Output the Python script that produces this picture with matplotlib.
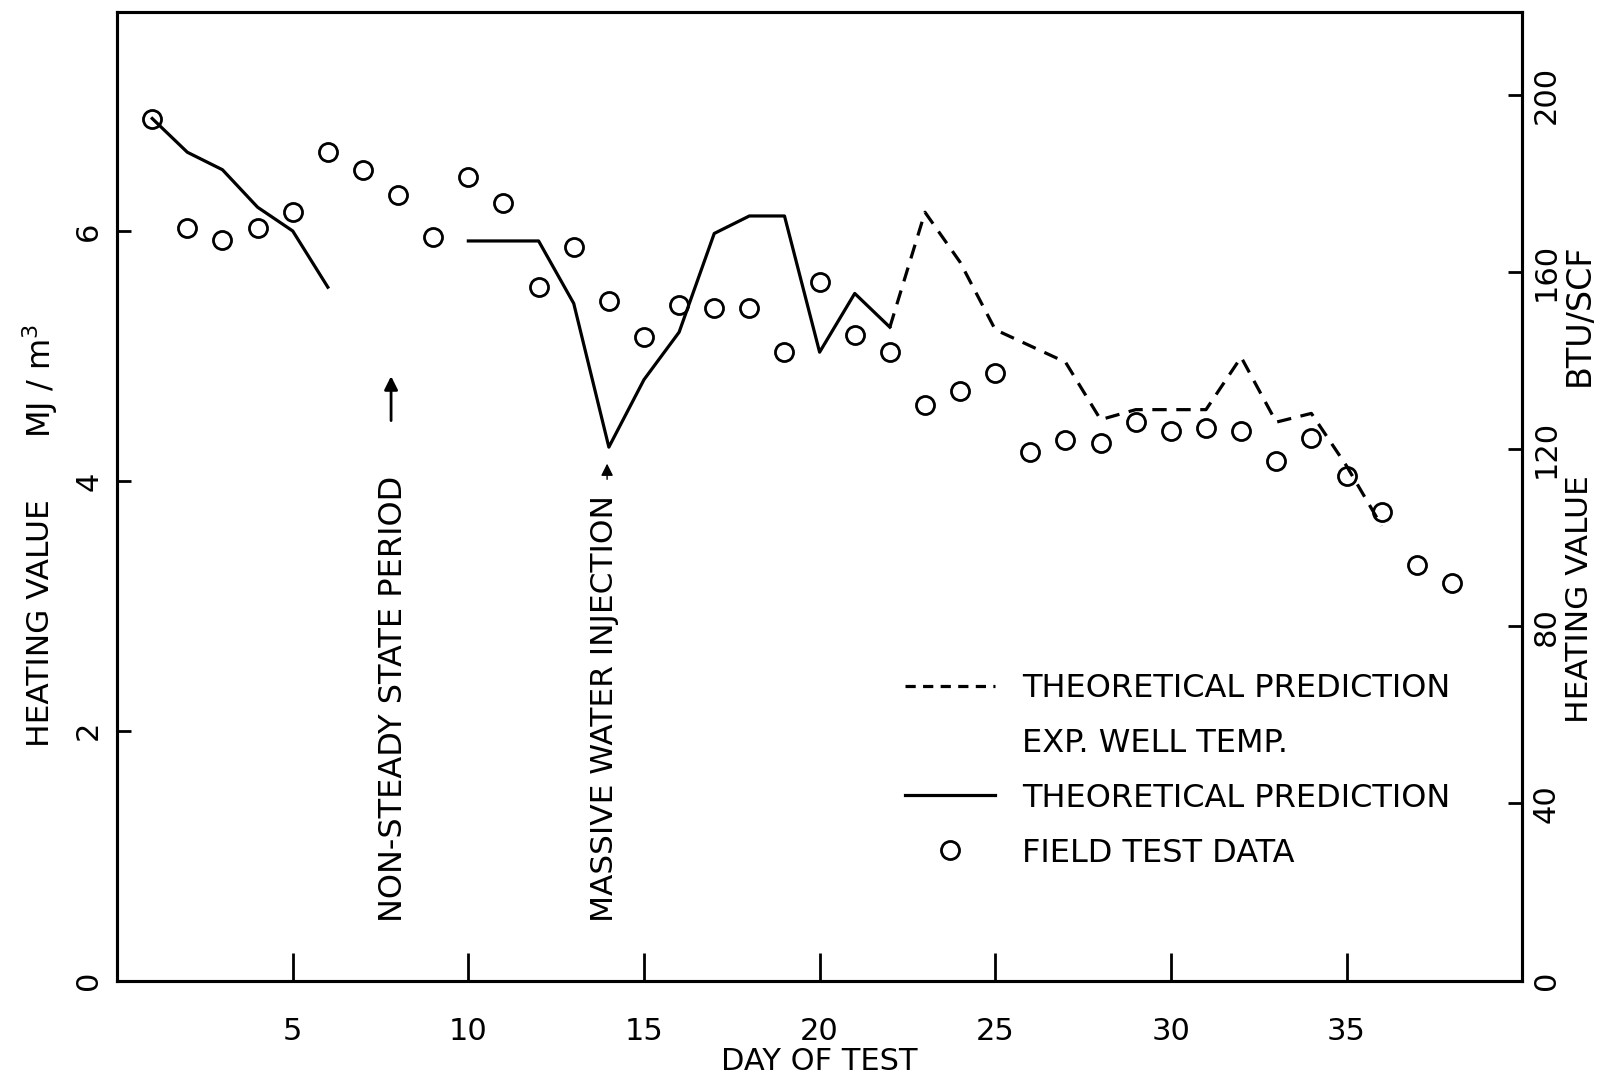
import matplotlib
matplotlib.use("Agg")
import matplotlib.pyplot as plt
from matplotlib.lines import Line2D

plt.rcParams["font.family"] = ["DejaVu Sans"]

# field test data (MJ/m3), one point per day
field_days = list(range(1, 39))
field_vals = [6.90, 6.02, 5.93, 6.02, 6.15, 6.63, 6.49, 6.29, 5.95, 6.43,
              6.22, 5.55, 5.87, 5.44, 5.15, 5.41, 5.38, 5.38, 5.03, 5.59,
              5.17, 5.03, 4.61, 4.72, 4.86, 4.23, 4.33, 4.30, 4.47, 4.40,
              4.42, 4.40, 4.16, 4.34, 4.04, 3.75, 3.33, 3.18]

# theoretical prediction (solid), two pieces
pred1_days = [1, 2, 3, 4, 5, 6]
pred1_vals = [6.90, 6.63, 6.49, 6.19, 6.00, 5.55]
pred2_days = list(range(10, 23))
pred2_vals = [5.92, 5.92, 5.92, 5.42, 4.27, 4.81, 5.19, 5.98, 6.12, 6.12,
              5.03, 5.50, 5.23]

# theoretical prediction with experimental well temperature (dashed)
exp_days = list(range(22, 37))
exp_vals = [5.23, 6.15, 5.75, 5.21, 5.08, 4.95, 4.49, 4.57, 4.57, 4.57,
            4.99, 4.47, 4.54, 4.12, 3.64]

left_ticks = [0, 2, 4, 6]
right_ticks = [0, 40, 80, 120, 160, 200]
x_ticks = [5, 10, 15, 20, 25, 30, 35]

fig = plt.figure(figsize=(16.15, 10.8), dpi=100)
ax = fig.add_axes([0.0725, 0.092, 0.870, 0.8966])
ax2 = ax.twinx()

lw = 2.3
dash = (4.5, 3)
ax.plot(pred1_days, pred1_vals, color="black", lw=lw)
ax.plot(pred2_days, pred2_vals, color="black", lw=lw)
ax.plot(exp_days, exp_vals, color="black", lw=lw, dashes=dash)
ax.plot(field_days, field_vals, ls="none", marker="o", ms=13,
        mfc="none", mec="black", mew=2.0)

ax.set_xlim(0, 40)
ax.set_ylim(0, 7.75)
ax2.set_ylim(0, 218.6)

ax.set_xticks(x_ticks)
ax.set_yticks(left_ticks)
ax2.set_yticks(right_ticks)

fs = 22
ax.tick_params(axis="x", direction="in", length=20, width=2, pad=26,
               labelsize=fs)
ax.tick_params(axis="y", direction="in", length=10, width=2, pad=10,
               labelsize=fs, labelrotation=90)
ax2.tick_params(axis="y", direction="in", length=10, width=2, pad=7,
                labelsize=fs, labelrotation=90)
for lab in ax.get_yticklabels() + ax2.get_yticklabels():
    lab.set_verticalalignment("center")

for a in (ax, ax2):
    for s in a.spines.values():
        s.set_linewidth(2.2)

ax.text(0.5, -0.083, "DAY OF TEST", fontsize=fs, ha="center", va="center",
        transform=ax.transAxes)

ytr = ax.get_yaxis_transform()
ax.text(-0.0546, 2.86, "HEATING VALUE", rotation=90, fontsize=22.5,
        ha="center", va="center", transform=ytr)
ax.text(-0.0546, 4.80, "MJ / m$^3$", rotation=90, fontsize=23,
        ha="center", va="center", transform=ytr)
ax.text(1.041, 3.05, "HEATING VALUE", rotation=90, fontsize=22.5,
        ha="center", va="center", transform=ytr)
ax.text(1.041, 5.33, "BTU/SCF", rotation=90, fontsize=24,
        ha="center", va="center", transform=ytr)

# annotations
ax.text(7.87, 0.47, "NON-STEADY STATE PERIOD", rotation=90, fontsize=23,
        ha="center", va="bottom")
ax.annotate("", xy=(7.8, 4.86), xytext=(7.8, 4.46),
            arrowprops=dict(arrowstyle="-|>", color="black", lw=2,
                            mutation_scale=20))
ax.text(13.89, 0.47, "MASSIVE WATER INJECTION", rotation=90, fontsize=22.5,
        ha="center", va="bottom")
ax.annotate("", xy=(13.95, 4.16), xytext=(13.95, 3.99),
            arrowprops=dict(arrowstyle="-|>", color="black", lw=1,
                            mutation_scale=18))

handles = [
    Line2D([], [], color="black", lw=lw, dashes=(3.2, 2.3)),
    Line2D([], [], color="none"),
    Line2D([], [], color="black", lw=lw),
    Line2D([], [], ls="none", marker="o", ms=13, mfc="none",
           mec="black", mew=2.0),
]
labels = ["THEORETICAL PREDICTION", "EXP. WELL TEMP.",
          "THEORETICAL PREDICTION", "FIELD TEST DATA"]
ax.legend(handles, labels, loc="upper left", bbox_to_anchor=(0.561, 0.318),
          frameon=False, fontsize=23, handlelength=2.8, handletextpad=0.85,
          labelspacing=0.75, borderpad=0, borderaxespad=0)

fig.savefig("out.png", dpi=100)
